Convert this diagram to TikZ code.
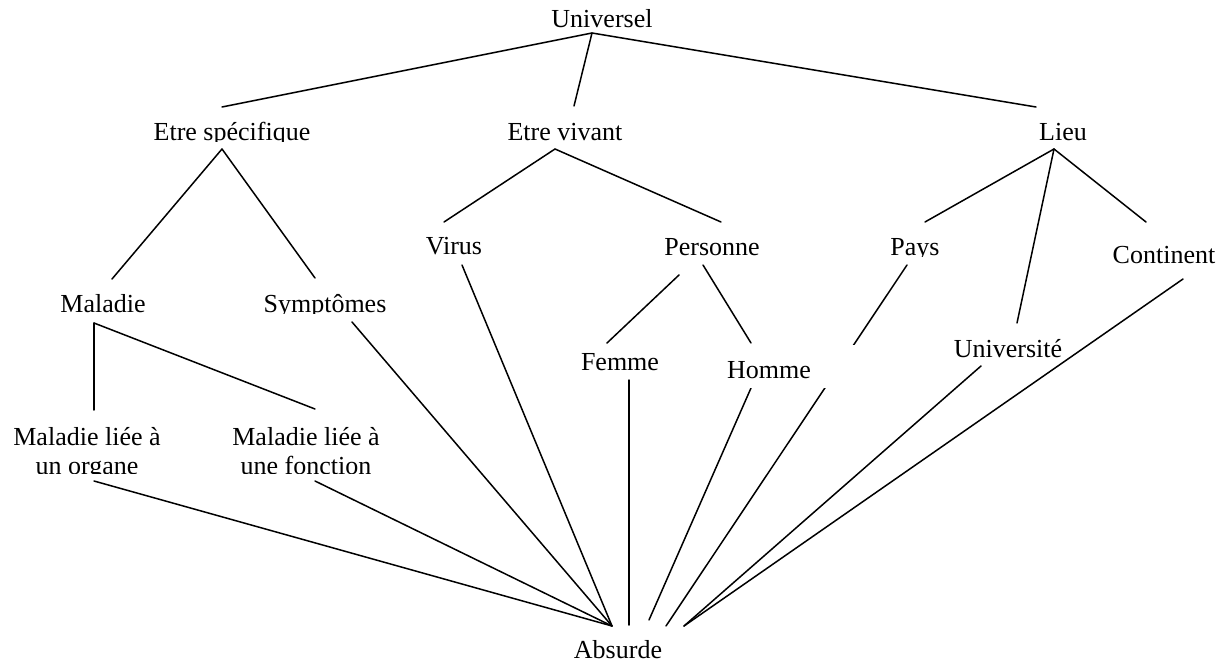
\documentclass[tikz,border=0pt]{standalone}
\usepackage{fontspec}
\setmainfont{Liberation Serif}
\usetikzlibrary{calc,backgrounds}
\begin{document}
\begin{tikzpicture}[x=1pt,y=-1pt,
  lbl/.style={inner sep=0pt, font=\fontsize{26}{29}\selectfont, anchor=base},
  link/.style={line width=1.5pt, line cap=round}]
\useasboundingbox (0,0) rectangle (1226,666);

% --- labels (text boxes cut just below the baseline where they have descenders)
\node[lbl] (uni) at (602,28) {Universel};
\begin{scope}
  \clip (100,90) rectangle (360,141.5);
  \node[lbl] (es) at (232,140) {Etre spécifique};
\end{scope}
\node[lbl] (ev) at (565,140) {Etre vivant};
\node[lbl] (li) at (1063,140) {Lieu};

\node[lbl] (vi) at (454,254) {Virus};
\node[lbl] (pe) at (712,255) {Personne};
\begin{scope}
  \clip (880,220) rectangle (960,256.5);
  \node[lbl] (pa) at (915,255) {Pays};
\end{scope}
\node[lbl] (co) at (1164,263) {Continent};

\node[lbl] (ma) at (103,312) {Maladie};
\begin{scope}
  \clip (250,280) rectangle (400,313.5);
  \node[lbl] (sy) at (325,312) {Symptômes};
\end{scope}

\node[lbl] (fe) at (620,370) {Femme};
\node[lbl, fill=white, text height=33pt, text depth=10pt, minimum width=174pt]
  (ho) at (769,378) {Homme};
\node[lbl] (un) at (1008,357) {Université};

\begin{scope}
  \clip (0,400) rectangle (200,473.5);
  \node[lbl, align=center, anchor=south] (org) at (87,480.6) {Maladie liée à\\un organe};
\end{scope}
\begin{scope}
  \clip (200,400) rectangle (400,473.5);
  \node[lbl, align=center, anchor=south] (fon) at (306,475) {Maladie liée à\\une fonction};
\end{scope}

\node[lbl] (ab) at (618,658) {Absurde};

% --- connectors, kept underneath the text boxes
\begin{pgfonlayer}{background}
  \draw[link] ($(uni.base)+(-10,5)$) -- ($(es.base)+(-10,-33)$);
  \draw[link] ($(uni.base)+(-10,5)$) -- ($(ev.base)+(9,-34)$);
  \draw[link] ($(uni.base)+(-10,5)$) -- ($(li.base)+(-27,-33)$);

  \draw[link] ($(es.base)+(-10,9)$) -- ($(ma.base)+(9,-33)$);
  \draw[link] ($(es.base)+(-10,9)$) -- ($(sy.base)+(-10,-34)$);

  \draw[link] ($(ev.base)+(-10,9)$) -- ($(vi.base)+(-10,-32)$);
  \draw[link] ($(ev.base)+(-10,9)$) -- ($(pe.base)+(9,-33)$);

  \draw[link] ($(li.base)+(-9,9)$) -- ($(pa.base)+(10,-33)$);
  \draw[link] ($(li.base)+(-9,9)$) -- ($(un.base)+(9,-34)$);
  \draw[link] ($(li.base)+(-9,9)$) -- ($(co.base)+(-18,-41)$);

  \draw[link] ($(ma.base)+(-9,11)$) -- ($(org.south)+(7,-70.6)$);
  \draw[link] ($(ma.base)+(-9,11)$) -- ($(fon.south)+(9,-66)$);

  \draw[link] ($(pe.base)+(-33,20)$) -- ($(fe.base)+(-13,-27)$);
  \draw[link] ($(pe.base)+(-9,10)$) -- ($(ho.base)+(-18,-35)$);

  \draw[link] ($(org.south)+(7,0.4)$) -- ($(ab.base)+(-6,-32)$);
  \draw[link] ($(fon.south)+(9,6)$) -- ($(ab.base)+(-6,-32)$);
  \draw[link] ($(sy.base)+(27,10)$) -- ($(ab.base)+(-6,-32)$);
  \draw[link] ($(vi.base)+(8,11)$) -- ($(ab.base)+(-6,-32)$);
  \draw[link] ($(fe.base)+(9,10)$) -- ($(ab.base)+(11,-33)$);
  \draw[link] ($(ho.base)+(-18,10)$) -- ($(ab.base)+(31,-38)$);
  \draw[link] ($(pa.base)+(-8,10)$) -- ($(ab.base)+(48,-32)$);
  \draw[link] ($(un.base)+(-27,9)$) -- ($(ab.base)+(66,-32)$);
  \draw[link] ($(co.base)+(19,16)$) -- ($(ab.base)+(66,-32)$);
\end{pgfonlayer}
\end{tikzpicture}
\end{document}
